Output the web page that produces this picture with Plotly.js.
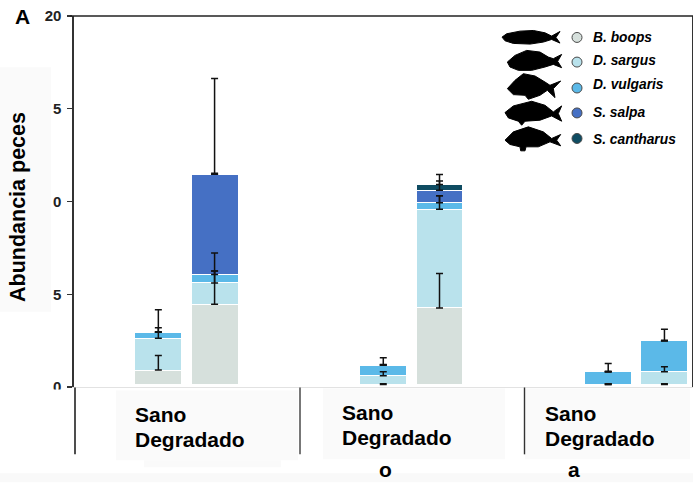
<!DOCTYPE html>
<html>
<head>
<meta charset="utf-8">
<script src="https://cdn.plot.ly/plotly-3.0.1.min.js"></script>
<style>html,body{margin:0;padding:0;background:#fff}#chart{width:693px;height:483px}</style>
</head>
<body>
<div id="chart"></div>
<script>
// ---- data ----
const barCategories = ['Sano 1','Degradado 1','Sano 2','Degradado 2','Sano 3','Degradado 3'];
const slotOrder = ['Sano 1','Degradado 1','-a','-b','Sano 2','Degradado 2','-c','-d','Sano 3','Degradado 3'];
const speciesNames = ['B. boops','D. sargus','D. vulgaris','S. salpa','S. cantharus'];
const bottomGap = [0.14,0.14,0.14,0.14,0.14,0.14];
const boops     = [0.77, 4.32, 0,    4.12, 0,    0];
const sargus    = [1.72, 1.15, 0.47, 5.32, 0,    0.68];
const vulgaris  = [0.32, 0.45, 0.57, 0.35, 0.68, 1.67];
const salpa     = [0,    5.41, 0,    0.68, 0,    0];
const cantharus = [0,    0,    0,    0.31, 0,    0];
const boopsErr     = [0.79, 1.80, 0.03, 1.86, 0.03, 0.03];
const sargusErr    = [0.56, 1.61, 0.21, 0.73, 0.03, 0.27];
const vulgarisErr  = [1.22, 0.20, 0.40, 0.38, 0.45, 0.62];
const salpaErr     = [0.03, 5.16, 0.03, 0.84, 0.03, 0.03];
const cantharusErr = [0,    0.05, 0,    0.18, 0,    0];
const yTickVals = [0,5,10,15,20];
const yTickText = ['0','5','0','5','20'];
const colors = ['#d6e0dc','#b9e2ec','#5bb9e8','#4570c4','#0f4c62'];
const seriesValues = [boops,sargus,vulgaris,salpa,cantharus];
const seriesErrors = [boopsErr,sargusErr,vulgarisErr,salpaErr,cantharusErr];

// ---- page geometry ----
const W=693,H=483,L=74,R=692,T=15.5,B=387.5;
const px=x=>(x-L)/(R-L), py=y=>(B-y)/(B-T);
const FONT='"Liberation Sans", Arial, sans-serif';

const gapTrace={type:'bar',name:'gap',x:barCategories,y:bottomGap,width:0.835,
  marker:{color:'rgba(0,0,0,0)',line:{width:0}},showlegend:false,hoverinfo:'skip'};
const barTraces = speciesNames.map((n,i)=>({
  type:'bar', name:n, x:barCategories, y:seriesValues[i],
  width:0.835,
  marker:{color:colors[i],line:{color:'#ffffff',width:1}},
  showlegend:false, hoverinfo:'skip'
}));
// error whiskers sit on the top of each stacked segment and above every bar
let running = bottomGap.slice();
const errTraces = speciesNames.map((n,i)=>{
  running = running.map((v,k)=>v+seriesValues[i][k]);
  return {type:'scatter',mode:'markers',name:n+' error',x:barCategories,y:running.slice(),
    marker:{size:1,opacity:0},
    error_y:{type:'data',symmetric:false,array:seriesErrors[i],arrayminus:seriesErrors[i].map(()=>0),
             color:'#111',thickness:1.5,width:3.5},
    showlegend:false,hoverinfo:'skip'};
});
const traces=[gapTrace,...barTraces,...errTraces];

function rect(x0,y0,x1,y1,c,layer){return {type:'rect',xref:'paper',yref:'paper',x0:px(x0),x1:px(x1),y0:py(y0),y1:py(y1),
  fillcolor:c,line:{width:0},layer:layer||'below'};}
function line(x0,y0,x1,y1,c,w){return {type:'line',xref:'paper',yref:'paper',x0:px(x0),x1:px(x1),y0:py(y0),y1:py(y1),line:{color:c,width:w},layer:'above'};}
function fish(pts){ // outline traced in zoom-crop units
  const m=pts.map(p=>[px(490+p[0]/3),py(15+p[1]/3)]);
  return {type:'path',xref:'paper',yref:'paper',fillcolor:'#000',line:{color:'#000',width:1},layer:'above',
    path:'M'+m.map(p=>p[0].toFixed(4)+' '+p[1].toFixed(4)).join('L')+'Z'};
}
const fishShapes=[
 [[36,65],[50,55],[90,47],[130,45],[165,52],[185,62],[210,48],[198,66],[210,83],[185,72],[160,80],[120,86],[70,84],[45,76]],
 [[52,140],[75,120],[110,105],[150,110],[175,125],[190,130],[215,117],[203,138],[215,157],[190,147],[165,155],[125,165],[85,165],[60,155]],
 [[52,220],[75,195],[100,175],[135,182],[165,200],[180,210],[212,197],[190,220],[195,247],[172,225],[150,240],[115,252],[105,240],[70,238]],
 [[45,292],[70,272],[125,258],[165,270],[190,290],[215,272],[205,295],[215,318],[185,302],[150,315],[105,318],[95,330],[85,318],[55,308]],
 [[45,375],[70,350],[115,335],[160,350],[185,370],[212,358],[200,375],[212,392],[180,380],[145,395],[108,395],[105,407],[92,407],[90,395],[60,388]]
].map(fish);

const legendCircleY=[37,61.7,87.7,112.7,138.3];
const legendTextY=[37,60,84,112,139];
const circles=colors.map((c,i)=>({type:'circle',xref:'paper',yref:'paper',
  x0:px(572),x1:px(582),y0:py(legendCircleY[i]+5),y1:py(legendCircleY[i]-5),
  fillcolor:c,line:{color:'#4a4a4a',width:1},layer:'above'}));

const shapes=[
  rect(0,67,51,312,'#fafafa'),
  rect(116,391,298,461,'#fafafa'),
  rect(144,461,281,468,'#fafafa'),
  rect(323,389,505,460,'#fafafa'),
  rect(525,389,690,460,'#fafafa'),
  rect(0,474,693,483,'#f9f9f9'),
  rect(44,390,72,410,'#ffffff','above'),
  line(70,15.5,693,15.5,'#222',1.6),
  line(75,388,75,455,'#222',1.6),
  line(300,388,300,455,'#555',1.6),
  line(524.5,388,524.5,455,'#333',1.4),
  ...fishShapes,
  ...circles
];

function note(text,x,y,size,extra){return Object.assign({xref:'paper',yref:'paper',x:px(x),y:py(y),text:text,showarrow:false,
  xanchor:'left',yanchor:'middle',align:'left',font:{family:FONT,size:size,color:'#000'}},extra||{});}
const annotations=[
  note('<b>A</b>',13,16,21),
  note('<b>Abundancia peces</b>',18,207,21.5,{textangle:-90,xanchor:'center'}),
  note('<b>Sano</b>',133,415,21),note('<b>Degradado</b>',133,440,21),
  note('<b>Sano</b>',340,413,21),note('<b>Degradado</b>',340,438,21),
  note('<b>Sano</b>',543,414,21),note('<b>Degradado</b>',543,439,21),
  note('<b>o</b>',377,470,21),
  note('<b>a</b>',566,470,21),
  ...speciesNames.map((n,i)=>note('<b><i>'+n+'</i></b>',591,legendTextY[i],13.8))
];

Plotly.newPlot('chart',traces,{
  width:W,height:H,
  margin:{l:L,r:W-R,t:T,b:H-B,pad:0},
  paper_bgcolor:'#ffffff',plot_bgcolor:'rgba(0,0,0,0)',
  barmode:'stack',bargap:0,
  showlegend:false,
  xaxis:{type:'category',categoryorder:'array',categoryarray:slotOrder,range:[-1.5,9.49],
    showticklabels:false,ticks:'',showgrid:false,zeroline:false,showline:true,linecolor:'#e2e2e2',linewidth:1},
  yaxis:{range:[0,20],tickmode:'array',tickvals:yTickVals,ticktext:yTickText,ticks:'outside',ticklen:5,tickcolor:'#333',tickwidth:1.2,
    ticklabelstandoff:3,
    tickfont:{family:FONT,size:15,color:'#222',weight:700},showgrid:false,zeroline:false,
    showline:true,linecolor:'#333',linewidth:1.6,mirror:true},
  shapes:shapes,annotations:annotations
},{displayModeBar:false,staticPlot:true});
</script>
</body>
</html>
